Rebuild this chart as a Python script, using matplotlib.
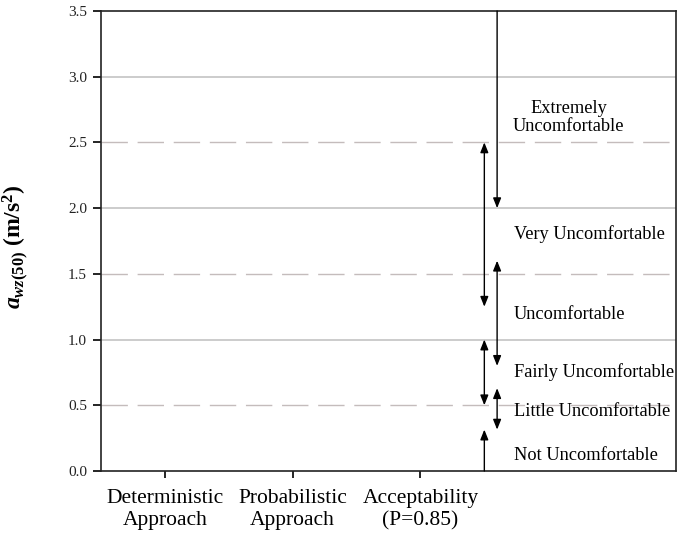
import matplotlib.pyplot as plt

plt.rcParams['font.family'] = ['Liberation Serif', 'DejaVu Serif']
plt.rcParams['mathtext.fontset'] = 'custom'
plt.rcParams['mathtext.rm'] = 'Liberation Serif:bold'
plt.rcParams['mathtext.it'] = 'Liberation Serif:italic:bold'
plt.rcParams['mathtext.bf'] = 'Liberation Serif:bold'

# x categories
categories = ['Deterministic\nApproach', 'Probabilistic\nApproach', 'Acceptability\n(P=0.85)']

# comfort zones (ISO 2631 style), lower and upper bound in m/s^2
zones = ['Not Uncomfortable', 'Little Uncomfortable', 'Fairly Uncomfortable',
         'Uncomfortable', 'Very Uncomfortable', 'Extremely\nUncomfortable']
zone_low = [0.0, 0.315, 0.5, 0.8, 1.25, 2.0]
zone_high = [0.315, 0.63, 1.0, 1.6, 2.5, 3.5]

fig = plt.figure(figsize=(6.81, 5.46), dpi=100)
ax = fig.add_axes([101/681, 1 - 471/546, 575/681, 460/546])

ax.set_xlim(0.5, 5.0)
ax.set_ylim(0, 3.5)

# grid: solid at whole numbers, dashed at the halves
for y in [1.0, 2.0, 3.0]:
    ax.axhline(y, color='#c4c4c4', lw=1.2, zorder=1)
for y in [0.5, 1.5, 2.5]:
    ax.axhline(y, color='#c4bcbc', lw=1.0, dashes=(19, 7), zorder=1)

# arrows for each zone, alternating between two columns
arrow_x = [3.5, 3.6, 3.5, 3.6, 3.5, 3.6]
for i, (lo, hi) in enumerate(zip(zone_low, zone_high)):
    if lo == 0:
        style = '-|>'
        start, end = lo, hi
    elif hi == 3.5:
        style = '-|>'
        start, end = hi, lo
    else:
        style = '<|-|>'
        start, end = lo, hi
    ax.annotate('', xy=(arrow_x[i], end), xytext=(arrow_x[i], start),
                arrowprops=dict(arrowstyle=style + ',head_length=0.5,head_width=0.2',
                                color='black', lw=1.0,
                                mutation_scale=12, shrinkA=0, shrinkB=0),
                annotation_clip=False, zorder=3)

label_y = [0.12, 0.45, 0.75, 1.19, 1.80, 2.69]
for i, name in enumerate(zones):
    if '\n' in name:
        ax.text(4.16, label_y[i], name, ha='center', va='center', fontsize=13.2,
                linespacing=1.1)
    else:
        ax.text(3.73, label_y[i], name, ha='left', va='center', fontsize=13.2)

ax.set_xticks([1, 2, 3])
ax.set_xticklabels(categories, fontsize=15.5, linespacing=1.2)
ax.set_yticks([0, 0.5, 1.0, 1.5, 2.0, 2.5, 3.0, 3.5])
ax.set_yticklabels(['%.1f' % v for v in ax.get_yticks()], fontsize=11, color='#222222')
ax.tick_params(axis='x', direction='out', length=5, width=1.2, pad=8)
ax.tick_params(axis='y', direction='out', length=6, width=1.2, pad=4)

for s in ax.spines.values():
    s.set_linewidth(1.2)
    s.set_color('#222222')

ax.set_ylabel(r'$a_{\mathit{wz(50)}}$ $\mathbf{(m/s^2)}$', fontsize=17)
ax.yaxis.set_label_coords(-0.122, 0.487)

fig.savefig('out.png', dpi=100)
